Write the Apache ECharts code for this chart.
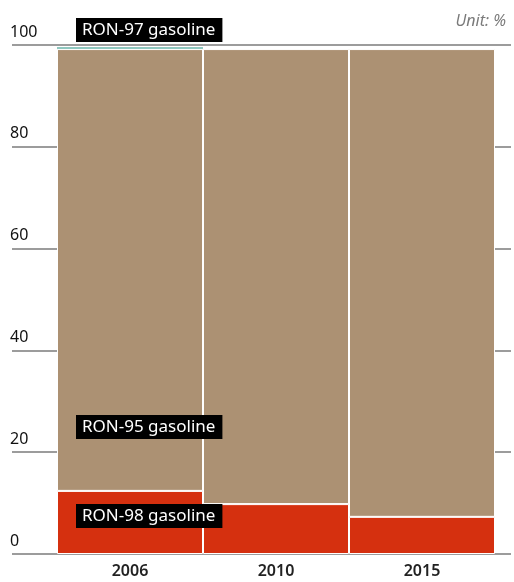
<!DOCTYPE html>
<html><head><meta charset="utf-8">
<script src="https://cdn.jsdelivr.net/npm/echarts@6/dist/echarts.min.js"></script>
<style>html,body{margin:0;padding:0;background:#fff}#c{width:514px;height:582px}</style>
</head><body><div id="c"></div>
<script>
const years = ['2006', '2010', '2015'];
const ron98 = [12.4, 9.8, 7.3];
const ron95 = [86.8, 89.4, 91.9];
const ron97 = [0.4, 0, 0];
const yTicks = [0, 20, 40, 60, 80, 100];

const FONT = 'Noto Sans';
function lab(text, pos) {
  return {
    show: true, position: pos, formatter: text,
    color: '#fff', backgroundColor: '#000', fontFamily: FONT, fontSize: 17,
    padding: [3, 7, 3, 6], lineHeight: 18
  };
}
function withLabel(arr, text, pos) {
  return arr.map((v, i) => i === 0 ? { value: v, label: lab(text, pos) } : v);
}

const chart = echarts.init(document.getElementById('c'), null, { renderer: 'canvas' });
chart.setOption({
  animation: false,
  title: {
    text: 'Unit: %', right: 3, top: 8,
    textStyle: { fontFamily: FONT, fontSize: 16, fontStyle: 'italic', fontWeight: 'normal', color: '#7a7a7a' }
  },
  grid: [
    { left: 12, right: 3, top: 45, bottom: 28 },
    { left: 57, right: 19, top: 45, bottom: 28 }
  ],
  xAxis: [
    { gridIndex: 0, type: 'category', data: years, show: false },
    {
      gridIndex: 1, type: 'category', data: years,
      axisLine: { show: false }, axisTick: { show: false },
      axisLabel: { margin: 9, fontFamily: FONT, fontSize: 16, color: '#222', fontWeight: 600 }
    }
  ],
  yAxis: [
    {
      gridIndex: 0, type: 'value', min: 0, max: 100, interval: 20,
      axisLine: { show: false }, axisTick: { show: false },
      splitLine: { lineStyle: { color: '#9c9c9c', width: 2 } },
      axisLabel: {
        inside: true, margin: -2, align: 'left', verticalAlign: 'bottom',
        padding: [0, 0, 5, 0], fontFamily: FONT, fontSize: 16, color: '#111',
        formatter: v => yTicks.includes(v) ? String(v) : ''
      }
    },
    { gridIndex: 1, type: 'value', min: 0, max: 100, show: false }
  ],
  series: [
    {
      name: 'RON-98 gasoline', type: 'bar', stack: 's', xAxisIndex: 1, yAxisIndex: 1,
      barCategoryGap: 0, data: withLabel(ron98, 'RON-98 gasoline', [19, 13]),
      itemStyle: { color: '#d5300f', borderColor: '#fff', borderWidth: 1 }
    },
    {
      name: 'RON-95 gasoline', type: 'bar', stack: 's', xAxisIndex: 1, yAxisIndex: 1,
      barCategoryGap: 0, data: withLabel(ron95, 'RON-95 gasoline', [19, 366]),
      itemStyle: { color: '#ac9173', borderColor: '#fff', borderWidth: 1 }
    },
    {
      name: 'RON-97 gasoline', type: 'bar', stack: 's', xAxisIndex: 1, yAxisIndex: 1,
      barCategoryGap: 0, data: withLabel(ron97, 'RON-97 gasoline', [19, -29]),
      itemStyle: { color: '#8fc7bf', borderColor: '#fff', borderWidth: 0 }
    }
  ]
});
</script></body></html>
